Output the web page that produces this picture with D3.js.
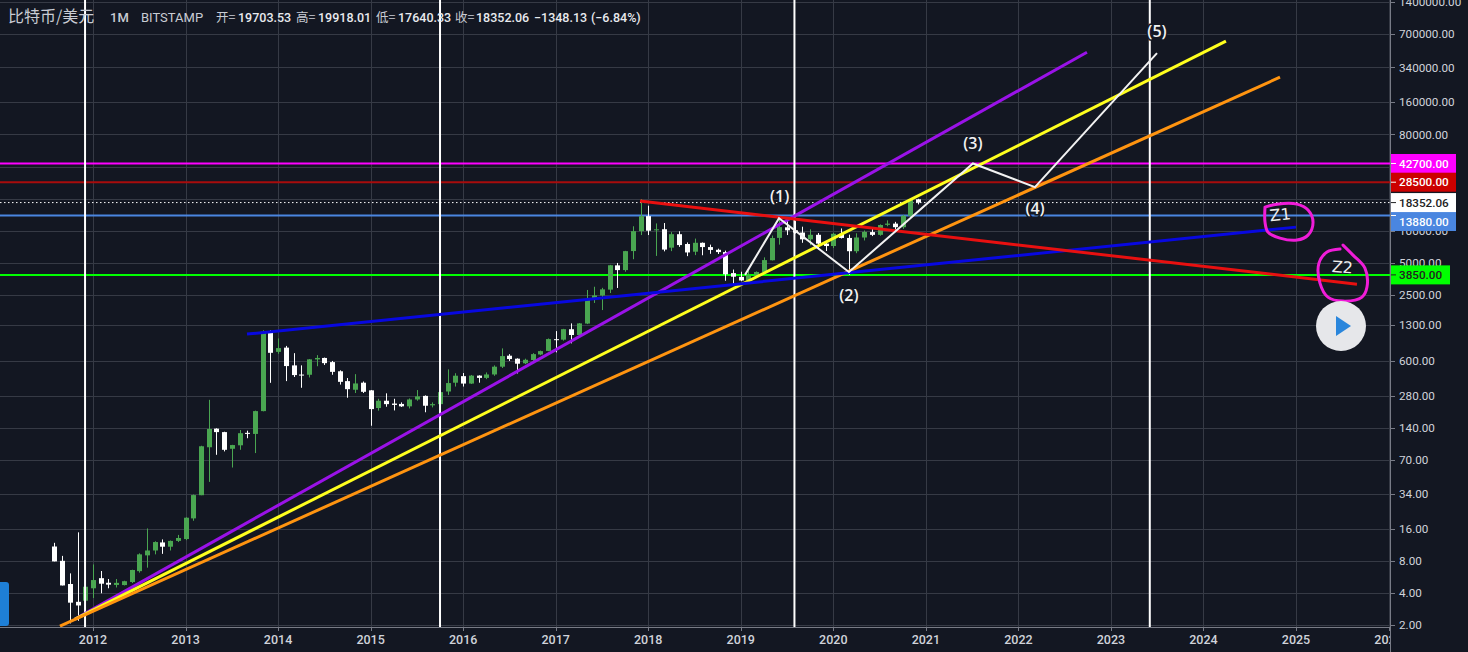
<!DOCTYPE html>
<html><head><meta charset="utf-8">
<script src="https://cdn.jsdelivr.net/npm/d3@7"></script>
<style>
html,body{margin:0;padding:0;background:#131722;overflow:hidden}
svg{display:block}
text{font-family:Roboto,"Noto Sans CJK SC",sans-serif}
</style></head><body>
<svg id="c" width="1468" height="652"></svg>
<script>
// ---- monthly candles, 2011-08 to 2020-12 ----
const firstYear = 2011, firstMonth = 7;
const opens = [10.9,8.0,4.85,3.3,3.38,
4.42,5.5,4.98,4.75,4.74,5.06,6.4,9.0,10.0,11.9,10.85,12.3,
12.8,20,33,93,139,129,90,97,127,124,203,1126,
730,800,545,447,445,620,640,585,480,388,322,375,
318,217,254,239,237,225,261,282,230,236,310,375,
432,368,437,416,448,530,672,630,570,612,690,745,
960,950,1190,1050,1345,2280,2465,2800,4730,4270,6440,9900,
13700,10100,10320,6930,9270,7500,6350,7700,7020,6620,6300,4000,
3690,3410,3810,4100,5280,8560,10760,10080,9600,8300,9150,7560,
7180,9350,8550,6420,8630,9700,9140,11350,11650,10780,13800,19703.53];
const highs = [11.8,8.9,6.1,14.8,4.6,
7.4,6.42,5.4,5.4,5.2,6.6,9.4,16.1,12.2,12.7,12.4,14.0,
20.5,33.5,96,259,140,130,98,135,133,205,1163,1163,
976,830,710,545,625,680,645,600,490,415,451,385,
320,265,298,265,245,267,320,285,245,331,500,460,
462,443,440,468,545,787,695,635,630,710,750,975,
1143,1200,1350,1360,2780,2980,2910,4780,4980,6470,11000,19800,
17150,11700,11800,9700,9880,7760,8430,7750,7400,6780,6500,4320,
4120,4200,4150,5620,9000,13000,13200,12300,10900,10300,9500,7750,
9550,10500,9180,9450,10050,10380,11450,12500,12100,14050,19800,19918.01];
const lows = [7.9,4.7,2.07,2.19,2.0,
3.58,3.97,4.42,4.5,4.7,4.95,6.2,6.9,9.2,9.3,10.0,12.0,
12.5,19,33,44,79,85,60,88,113,82,202,374,
700,388,424,336,420,535,550,445,360,271,300,300,
148,205,223,206,222,215,254,198,220,235,288,345,
345,365,375,405,435,515,600,458,560,600,680,740,
722,930,877,1040,1330,2100,1800,2600,2900,4120,5400,9100,
9100,5800,6400,6430,7050,5770,5900,5880,6070,6050,3390,3020,
3360,3370,3670,4040,5260,7400,9100,9400,7700,7300,6700,6450,
6870,8450,3850,6150,8100,8900,8970,11000,9900,10400,13240,17640.33];
const closes = [7.9,4.7,3.24,3.05,4.57,
5.28,4.88,4.78,4.97,5.15,6.56,9.2,10.0,12.0,10.85,12.3,13.1,
20.3,33.1,95,138,129,88,97.5,126,124,203,1126,715,
792,537,442,440,621,640,572,474,382,326,369,308,
212,254,236,232,225,261,279,228,236,306,372,436,
368,437,416,448,530,666,625,565,615,695,742,962,
945,1192,1050,1350,2270,2470,2815,4740,4270,6430,9900,13700,
10000,10300,6650,9270,7330,6250,7700,7020,6600,6300,3900,3700,
3410,3810,4100,5300,8530,10800,10080,9590,8300,9150,7560,7180,
9350,8550,6420,8630,9740,9140,11300,11650,10780,13800,19700,18352.06];

// ---- axes ----
const gridPrices = [1400000,700000,340000,160000,80000,40000,20000,10000,5000,2500,1300,600,280,140,70,34,16,8,4,2];
const priceTicks = [1400000,700000,340000,160000,80000,10000,5000,2500,1300,600,280,140,70,34,16,8,4,2];
const yearTicks = [2012,2013,2014,2015,2016,2017,2018,2019,2020,2021,2022,2023,2024,2025,2026];

// ---- horizontal levels and tags ----
const levelPrices = [42700,28500,13880,3850];
const levelColors = ["#ff00ff","#a80c0c","#4a86e0","#00ff00"];
const tagColors   = ["#ff00ff","#cc0000","#4a86e0","#00ff00"];
const tagTexts    = ["#ffffff","#ffffff","#ffffff","#222222"];
const lastClose = 18352.06;

// ---- vertical lines (decimal years) ----
const vLines = [2011.914,2015.75,2019.58,2023.42];

// ---- trend lines: [year, price] ends ----
const purpleLine = [[2011.805,2.27],[2022.741,472600]];
const yellowLine = [[2011.805,2.27],[2024.243,599400]];
const orangeLine = [[2011.643,1.95],[2024.827,275300]];
const blueLine   = [[2013.664,1071],[2025,10800]];
const redLine    = [[2017.911,18956],[2025.659,3148]];
const trendColors = ["#9a12e8","#ffff1e","#ff9410","#0808e0","#e81010"];

// ---- Elliott wave ----
const wave = [[2019.046,3850],[2019.413,13120],[2020.169,4096],[2021.509,42700],[2022.179,25600],[2023.498,463000]];
const waveLabels = [["(1)",2019.42,20170],["(2)",2020.169,2385],["(3)",2021.509,64500],["(4)",2022.18,15900],["(5)",2023.498,726000]];

// ---- hand-drawn marks ----
const z1Loop = [[2024.665,16620],[2024.795,17740],[2025.011,17740],[2025.13,15600],[2025.184,12030],[2025.13,9090],[2025.011,8160],[2024.827,8520],[2024.697,9700],[2024.665,12030],[2024.665,16620]];
const z2Loop = [[2025.508,7323],[2025.616,5900],[2025.745,4450],[2025.767,2957],[2025.713,2381],[2025.508,2184],[2025.345,2381],[2025.259,3223],[2025.248,4963],[2025.335,6296],[2025.476,6718]];
const handLabels = [["Z1",2024.83,13800,-6],["Z2",2025.5,4440,4]];

// ---- header ----
const headerName = "比特币/美元", headerTf = "1M", headerEx = "BITSTAMP";
const headerFields = ["开=","高=","低=","收="];
const headerOHLC = ["19703.53","19918.01","17640.33","18352.06"];
const headerChange = ["−1348.13","(−6.84%)"];

// ---- scales ----
const x = d3.scaleLinear().domain([2012,2025]).range([93,1296]);
const y = d3.scaleLog().domain([2,700000]).range([625,34]);
const fmt = d3.format(".2f");
const axisX = 1390, axisY = 627;
const svg = d3.select("#c");
const bg="#131722", grid="#363a45", axisCol="#787b86", txt="#d0d3da";

const defs = svg.append("defs");
defs.append("clipPath").attr("id","plot").append("rect").attr("width",axisX).attr("height",axisY+1);
defs.append("clipPath").attr("id","xclip").append("rect").attr("width",axisX).attr("height",652);

svg.append("rect").attr("width",1468).attr("height",652).attr("fill",bg);

const plot = svg.append("g").attr("clip-path","url(#plot)");
// grid
plot.selectAll(".gy").data(gridPrices).join("line")
  .attr("x1",0).attr("x2",axisX).attr("y1",d=>Math.round(y(d))+.5).attr("y2",d=>Math.round(y(d))+.5)
  .attr("stroke",grid);
plot.selectAll(".gx").data(yearTicks).join("line")
  .attr("y1",0).attr("y2",axisY).attr("x1",d=>Math.round(x(d))+.5).attr("x2",d=>Math.round(x(d))+.5)
  .attr("stroke",grid);

// dotted last price
plot.append("line").attr("x1",0).attr("x2",axisX).attr("y1",y(lastClose)).attr("y2",y(lastClose))
  .attr("stroke","#ffffff").attr("stroke-dasharray","1.5 2.5").attr("stroke-width",1);

// levels
plot.selectAll(".lvl").data(levelPrices).join("line")
  .attr("x1",0).attr("x2",axisX).attr("y1",d=>y(d)).attr("y2",d=>y(d))
  .attr("stroke",(d,i)=>levelColors[i]).attr("stroke-width",2);

// candles
const up="#4aa651", down="#ffffff";
const candleX = i => x(firstYear + (firstMonth + i)/12);
const candles = plot.append("g").selectAll("g").data(opens).join("g")
  .attr("fill",(d,i)=>closes[i]>=d?up:down).attr("stroke",(d,i)=>closes[i]>=d?up:down);
candles.append("line").attr("x1",(d,i)=>Math.round(candleX(i))+.5).attr("x2",(d,i)=>Math.round(candleX(i))+.5)
  .attr("y1",(d,i)=>y(highs[i])).attr("y2",(d,i)=>y(lows[i])).attr("stroke-width",1);
candles.append("rect").attr("x",(d,i)=>Math.round(candleX(i))-2).attr("width",5)
  .attr("y",(d,i)=>y(Math.max(d,closes[i])))
  .attr("height",(d,i)=>Math.max(1,Math.abs(y(d)-y(closes[i])))).attr("stroke","none");

// vertical lines
plot.selectAll(".v").data(vLines).join("line")
  .attr("x1",d=>x(d)).attr("x2",d=>x(d)).attr("y1",0).attr("y2",axisY)
  .attr("stroke","#ffffff").attr("stroke-width",2);

// trends
const line = d3.line().x(d=>x(d[0])).y(d=>y(d[1]));
[purpleLine,yellowLine,orangeLine,blueLine,redLine].forEach((l,i)=>{
  plot.append("path").attr("d",line(l)).attr("fill","none").attr("stroke",trendColors[i]).attr("stroke-width",3);
});
// wave
plot.append("path").attr("d",line(wave)).attr("fill","none").attr("stroke","#f2f2f2").attr("stroke-width",2);
plot.selectAll(".wl").data(waveLabels).join("text")
  .attr("x",d=>x(d[1])).attr("y",d=>y(d[2])).attr("text-anchor","middle").attr("dominant-baseline","middle")
  .attr("font-size",16).attr("font-weight",600).attr("fill","#f2f2f2")
  .attr("stroke",bg).attr("stroke-width",3).attr("paint-order","stroke")
  .style("font-family","'Open Sans',sans-serif").text(d=>d[0]);

// hand-drawn loops
const hand = d3.line().x(d=>x(d[0])).y(d=>y(d[1])).curve(d3.curveCatmullRom);
[z1Loop,z2Loop].forEach(l=>{
  plot.append("path").attr("d",hand(l)).attr("fill","none").attr("stroke","#f01cd8").attr("stroke-width",3).attr("stroke-linecap","round");
});
plot.selectAll(".hl").data(handLabels).join("text")
  .attr("transform",d=>`translate(${x(d[1])},${y(d[2])}) rotate(${d[3]})`)
  .attr("text-anchor","middle").attr("dominant-baseline","middle")
  .attr("font-size",16).attr("fill","#eeeeee").style("font-family","'DejaVu Sans',sans-serif").text(d=>d[0]);

// play button + left tab
svg.append("circle").attr("cx",1341).attr("cy",326).attr("r",25).attr("fill","#e6e7ea");
svg.append("path").attr("d","M1336 316 L1351 326 L1336 336 Z").attr("fill","#2a86dc");
svg.append("rect").attr("x",-6).attr("y",582).attr("width",15).attr("height",44).attr("rx",3).attr("fill","#1e7fd6");

// axes
svg.append("line").attr("x1",axisX+.5).attr("x2",axisX+.5).attr("y1",0).attr("y2",652).attr("stroke",axisCol);
svg.append("line").attr("x1",0).attr("x2",axisX).attr("y1",axisY+.5).attr("y2",axisY+.5).attr("stroke",axisCol);
svg.selectAll(".pt").data(gridPrices).join("line")
  .attr("x1",axisX).attr("x2",axisX+5).attr("y1",d=>Math.round(y(d))+.5).attr("y2",d=>Math.round(y(d))+.5).attr("stroke",axisCol);
svg.selectAll(".pl").data(priceTicks).join("text")
  .attr("x",1399).attr("y",d=>y(d)+1).attr("dominant-baseline","middle").attr("font-size",11.7).attr("fill",txt)
  .text(d=>fmt(d));
const xg = svg.append("g").attr("clip-path","url(#xclip)");
xg.selectAll("line").data(yearTicks).join("line")
  .attr("x1",d=>Math.round(x(d))+.5).attr("x2",d=>Math.round(x(d))+.5).attr("y1",axisY).attr("y2",axisY+4).attr("stroke",axisCol);
xg.selectAll("text").data(yearTicks).join("text")
  .attr("x",d=>x(d)).attr("y",644).attr("text-anchor","middle").attr("font-size",12.5).attr("font-weight",500).attr("fill",txt)
  .text(d=>d);

// price tags
const tag = (p,yc,w,fill,col,label)=>{
  const g = svg.append("g");
  g.append("rect").attr("x",axisX+1).attr("y",yc-9.5).attr("width",w).attr("height",19).attr("fill",fill);
  g.append("line").attr("x1",axisX+1).attr("x2",axisX+6).attr("y1",y(p)).attr("y2",y(p)).attr("stroke",col);
  g.append("text").attr("x",1399).attr("y",yc+1).attr("dominant-baseline","middle").attr("font-size",11.7).attr("font-weight",500).attr("fill",col).text(label);
};
const tagNudge = [0,0,6,0], tagWidth=[65,65,65,59];
levelPrices.forEach((p,i)=>tag(p,y(p)+tagNudge[i],tagWidth[i],tagColors[i],tagTexts[i],fmt(p)));
tag(lastClose,y(lastClose),65,"#ffffff","#222222",fmt(lastClose));

// header
const head = svg.append("g").attr("fill","#c9ccd4");
const ht=(s,xp,sz,w,f)=>head.append("text").attr("x",xp).attr("y",22).attr("font-size",sz).attr("font-weight",w||400).attr("fill",f||"#c9ccd4").text(s);
ht(headerName,8,16).style("font-family","'Noto Sans CJK SC',sans-serif");
ht(headerTf,110,13,500); ht(headerEx,141,13,400);
const fieldX=[216,296,376,455], valX=[238,318,398,476];
headerFields.forEach((s,i)=>{ ht(s,fieldX[i],12.5).style("font-family","'Noto Sans CJK SC',sans-serif"); ht(headerOHLC[i],valX[i],12.5,500,"#e8eaee"); });
ht(headerChange[0],534,12.5,500,"#e8eaee"); ht(headerChange[1],591,12.5,500,"#e8eaee");
</script>
</body></html>
